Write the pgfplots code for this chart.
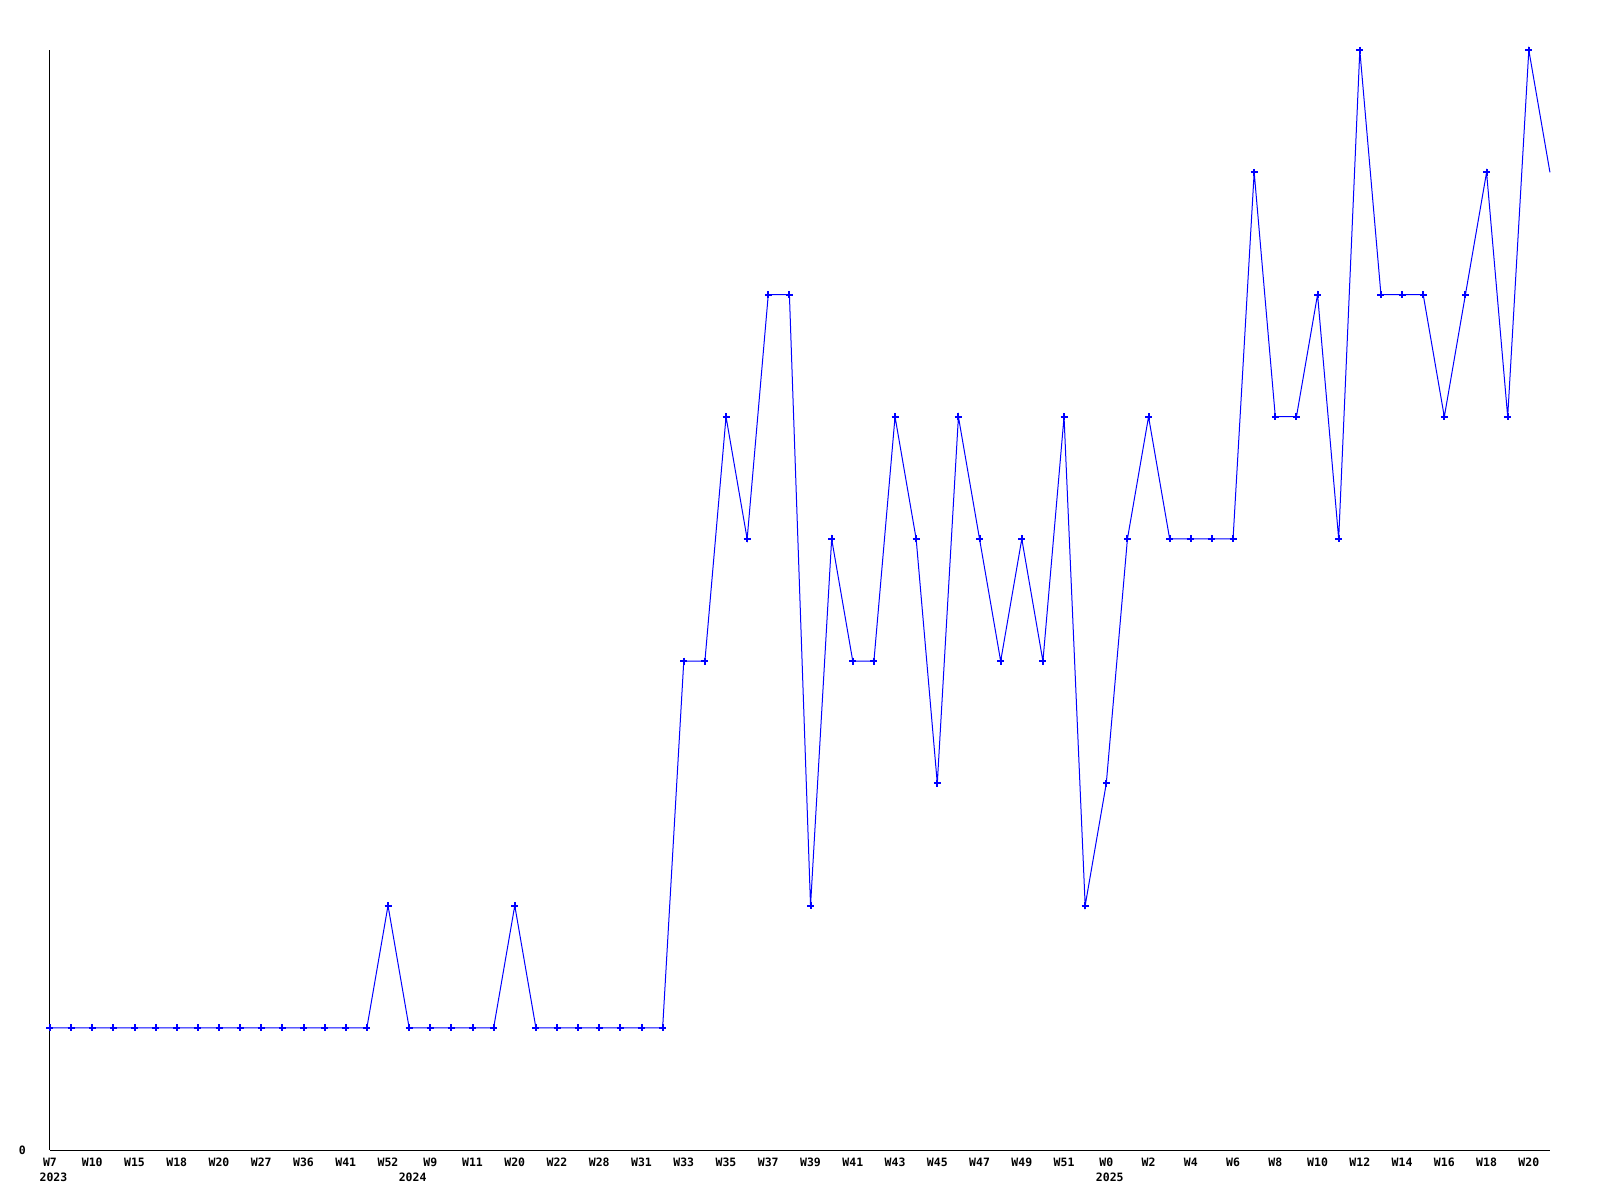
\documentclass[border=0pt]{standalone}
\usepackage{pgfplots}
\pgfplotsset{compat=1.18}
\usepackage{fontspec}
\setmainfont{DejaVu Sans Mono}
\newfontfamily\lab[BoldFont={* Bold}]{DejaVu Sans Mono}
\definecolor{lineblue}{RGB}{0,0,255}
\begin{document}
\begin{tikzpicture}
\path[use as bounding box] (0,0) rectangle (1600pt,1200pt);
\begin{axis}[
  at={(50pt,50pt)}, anchor=south west,
  scale only axis, width=1500pt, height=1100pt,
  xmin=0, xmax=71, ymin=0, ymax=9,
  axis x line=bottom, axis y line=left,
  axis line style={-, line width=1pt, black},
  major tick length=0pt,
  xtick={0,2,...,70},
  xticklabels={W7,W10,W15,W18,W20,W27,W36,W41,W52,W9,W11,W20,W22,W28,W31,W33,W35,W37,W39,W41,W43,W45,W47,W49,W51,W0,W2,W4,W6,W8,W10,W12,W14,W16,W18,W20},
  ytick={0}, yticklabels={0},
  tick label style={font=\fontsize{11.5pt}{12pt}\lab\bfseries, inner sep=0pt},
  xticklabel style={anchor=north, yshift=-8pt},
  yticklabel style={anchor=east, xshift=-24pt},
  clip=false,
]
\addplot[color=lineblue, line width=1pt, mark=+, mark size=3.5pt,
  mark options={line width=2pt}, mark indices={1,...,71}]
  table[x=i, y=v] {
i v
0 1
1 1
2 1
3 1
4 1
5 1
6 1
7 1
8 1
9 1
10 1
11 1
12 1
13 1
14 1
15 1
16 2
17 1
18 1
19 1
20 1
21 1
22 2
23 1
24 1
25 1
26 1
27 1
28 1
29 1
30 4
31 4
32 6
33 5
34 7
35 7
36 2
37 5
38 4
39 4
40 6
41 5
42 3
43 6
44 5
45 4
46 5
47 4
48 6
49 2
50 3
51 5
52 6
53 5
54 5
55 5
56 5
57 8
58 6
59 6
60 7
61 5
62 9
63 7
64 7
65 7
66 6
67 7
68 8
69 6
70 9
71 8
};
\node[anchor=north west, inner sep=0pt, font=\fontsize{11.5pt}{12pt}\lab\bfseries] at (axis cs:-0.5,0) [yshift=-23pt] {2023};
\node[anchor=north west, inner sep=0pt, font=\fontsize{11.5pt}{12pt}\lab\bfseries] at (axis cs:16.5,0) [yshift=-23pt] {2024};
\node[anchor=north west, inner sep=0pt, font=\fontsize{11.5pt}{12pt}\lab\bfseries] at (axis cs:49.5,0) [yshift=-23pt] {2025};
\end{axis}
\end{tikzpicture}
\end{document}
